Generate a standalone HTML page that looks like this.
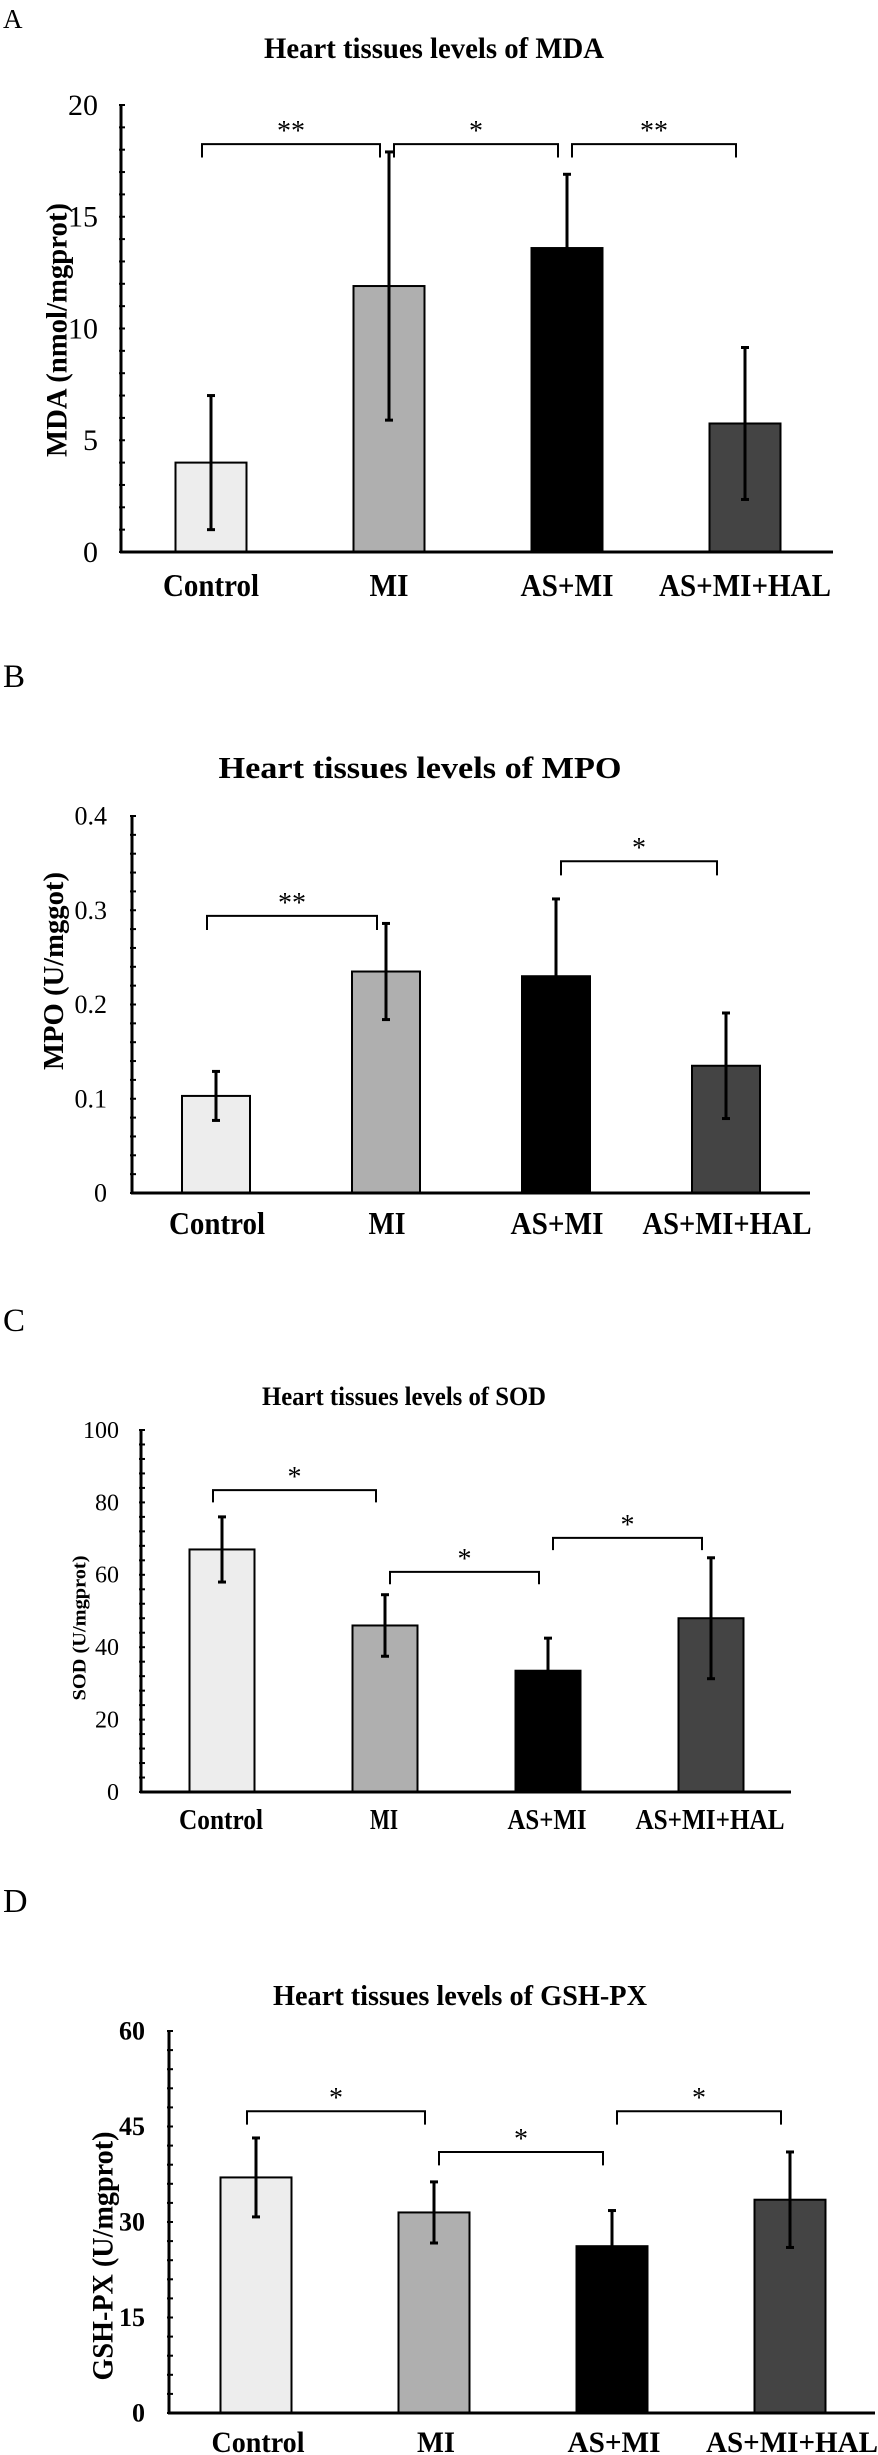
<!DOCTYPE html>
<html><head><meta charset="utf-8"><title>Heart tissue oxidative markers</title>
<style>html,body{margin:0;padding:0;background:#fff}svg{display:block}text{font-family:"Liberation Serif",serif}</style>
</head><body>
<svg id="fig" width="878" height="2455" viewBox="0 0 878 2455" xmlns="http://www.w3.org/2000/svg"></svg>
<script>
const categories = ["Control", "MI", "AS+MI", "AS+MI+HAL"];
const mdaValues = [4.0, 11.9, 13.6, 5.75];
const mdaErrors = [3.0, 6.0, 3.3, 3.4];
const mpoValues = [0.103, 0.235, 0.230, 0.135];
const mpoErrors = [0.026, 0.051, 0.082, 0.056];
const sodValues = [67, 46, 33.5, 48];
const sodErrors = [9, 8.5, 9, 16.7];
const gshValues = [37, 31.5, 26.2, 33.5];
const gshErrors = [6.2, 4.8, 5.6, 7.5];
const mdaTicks = [0, 5, 10, 15, 20];
const mpoTicks = [0, 0.1, 0.2, 0.3, 0.4];
const sodTicks = [0, 20, 40, 60, 80, 100];
const gshTicks = [0, 15, 30, 45, 60];
const mdaBrackets = [[0, 1, 18.25, "**"], [1, 2, 18.25, "*"], [2, 3, 18.25, "**"]];
const mpoBrackets = [[0, 1, 0.294, "**"], [2, 3, 0.352, "*"]];
const sodBrackets = [[0, 1, 83.4, "*"], [1, 2, 60.8, "*"], [2, 3, 70.2, "*"]];
const gshBrackets = [[0, 1, 47.4, "*"], [1, 2, 41.0, "*"], [2, 3, 47.4, "*"]];
const barColors = ["#ededed", "#afafaf", "#000000", "#444444"];

const NS = "http://www.w3.org/2000/svg";
const svg = document.getElementById("fig");
function mk(tag, attrs, parent) {
  const e = document.createElementNS(NS, tag);
  for (const k in attrs) e.setAttribute(k, attrs[k]);
  (parent || svg).appendChild(e);
  return e;
}

const panels = [
  {id:"mda", letter:"A", lx:3, lb:28, lf:27, values:mdaValues, errors:mdaErrors, ticks:mdaTicks, brackets:mdaBrackets, max:20, minor:1,
   axisX:121, y0:552, yTop:105, xEnd:833, c0:211, step:178, barW:71, tickRight:98, tickFont:30, tickBold:false,
   title:"Heart  tissues levels of MDA", tX:434, tB:58, tF:30, tL:340,
   xlB:596, xlF:32, xl0:211, xlLens:[96,39,93,172],
   yTitle:"MDA (nmol/mgprot)", ytX:56, ytY:330, ytF:30, ytL:254, legDrop:0.6},
  {id:"mpo", letter:"B", lx:3, lb:687, lf:33, values:mpoValues, errors:mpoErrors, ticks:mpoTicks, brackets:mpoBrackets, max:0.4, minor:0.02,
   axisX:132, y0:1193, yTop:816, xEnd:810, c0:216, step:170, barW:68, tickRight:107, tickFont:26, tickBold:false,
   title:"Heart  tissues levels of MPO", tX:420, tB:778, tF:31, tL:403,
   xlB:1234, xlF:32, xl0:217, xlLens:[96,37,93,169],
   yTitle:"MPO (U/mggot)", ytX:53, ytY:971, ytF:28, ytL:198, legDrop:0.015},
  {id:"sod", letter:"C", lx:3, lb:1331, lf:33, values:sodValues, errors:sodErrors, ticks:sodTicks, brackets:sodBrackets, max:100, minor:4,
   axisX:141, y0:1792, yTop:1430, xEnd:791, c0:222, step:163, barW:65, tickRight:119, tickFont:24, tickBold:false,
   title:"Heart  tissues levels of SOD", tX:404, tB:1405, tF:26, tL:284,
   xlB:1829, xlF:28, xl0:221, xlLens:[84,28,79,149],
   yTitle:"SOD (U/mgprot)", ytX:79, ytY:1628, ytF:19, ytL:145, legDrop:3.4},
  {id:"gsh", letter:"D", lx:3, lb:1912, lf:34, values:gshValues, errors:gshErrors, ticks:gshTicks, brackets:gshBrackets, max:60, minor:3,
   axisX:169, y0:2413, yTop:2031, xEnd:875, c0:256, step:178, barW:71, tickRight:145, tickFont:26, tickBold:true,
   title:"Heart  tissues levels of GSH-PX", tX:460, tB:2005, tF:29, tL:374,
   xlB:2452, xlF:30, xl0:258, xlLens:[93,38,93,172],
   yTitle:"GSH-PX (U/mgprot)", ytX:102, ytY:2256, ytF:30, ytL:249, legDrop:2.1}
];

panels.forEach(p => {
  const g = mk("g", {});
  
  
  const yS = v => p.y0 - v / p.max * (p.y0 - p.yTop);
  const xS = i => p.c0 + i * p.step;

  const L = mk("text", {x:p.lx, y:p.lb, "font-size":p.lf}, g);
  L.textContent = p.letter;
  
  

  const T = mk("text", {x:p.tX, y:p.tB, "font-size":p.tF, "font-weight":"bold", "text-anchor":"middle", textLength:p.tL, lengthAdjust:"spacingAndGlyphs"}, g);
  T.textContent = p.title;
  
  

  p.values.forEach((v, i) => {
    const r = mk("rect", {x:xS(i) - p.barW / 2, y:yS(v), width:p.barW, height:p.y0 - yS(v), fill:barColors[i], stroke:"#000", "stroke-width":2}, g);
    
    
  });
  p.values.forEach((v, i) => {
    const eg = mk("g", {stroke:"#000", "stroke-width":3}, g);
    
    
    const x = xS(i), hi = yS(v + p.errors[i]), lo = yS(v - p.errors[i]);
    mk("line", {x1:x, x2:x, y1:hi, y2:lo}, eg);
    mk("line", {x1:x - 4, x2:x + 4, y1:hi, y2:hi}, eg);
    mk("line", {x1:x - 4, x2:x + 4, y1:lo, y2:lo}, eg);
  });
  const ax = mk("g", {stroke:"#000"}, g);
  
  
  mk("line", {x1:p.axisX, x2:p.axisX, y1:p.yTop - 1, y2:p.y0 + 1, "stroke-width":3}, ax);
  mk("line", {x1:p.axisX - 1, x2:p.xEnd, y1:p.y0, y2:p.y0, "stroke-width":3}, ax);
  const nMinor = Math.round(p.max / p.minor);
  for (let k = 0; k <= nMinor; k++) {
    const y = yS(k * p.minor);
    mk("line", {x1:p.axisX - 2, x2:p.axisX + 4, y1:y, y2:y, "stroke-width":2}, ax);
  }
  p.ticks.forEach(t => {
    const tx = mk("text", {x:p.tickRight, y:yS(t) + p.tickFont * 0.33, "font-size":p.tickFont, "text-anchor":"end", "font-weight":p.tickBold ? "bold" : "normal"}, g);
    tx.textContent = String(t);
    
    
  });
  categories.forEach((c, i) => {
    const tx = mk("text", {x:p.xl0 + i * p.step, y:p.xlB, "font-size":p.xlF, "font-weight":"bold", "text-anchor":"middle", textLength:p.xlLens[i], lengthAdjust:"spacingAndGlyphs"}, g);
    tx.textContent = c;
    
    
  });
  const yt = mk("text", {x:0, y:0, "font-size":p.ytF, "font-weight":"bold", "text-anchor":"middle", textLength:p.ytL, lengthAdjust:"spacingAndGlyphs", transform:"translate(" + (p.ytX + p.ytF * 0.35) + "," + p.ytY + ") rotate(-90)"}, g);
  yt.textContent = p.yTitle;
  
  
  p.brackets.forEach(b => {
    const bg = mk("g", {}, g);
    
    
    const xa = xS(b[0]) + (b[0] > 0 ? 5 : -9), xb = xS(b[1]) - 9, yt2 = yS(b[2]), yl = yS(b[2] - p.legDrop);
    mk("polyline", {points:xa + "," + yl + " " + xa + "," + yt2 + " " + xb + "," + yt2 + " " + xb + "," + yl, fill:"none", stroke:"#000", "stroke-width":2}, bg);
    const st = mk("text", {x:(xa + xb) / 2, y:yt2 - 4, "font-size":28, "text-anchor":"middle"}, bg);
    st.textContent = b[3];
  });
});
</script>
</body></html>
